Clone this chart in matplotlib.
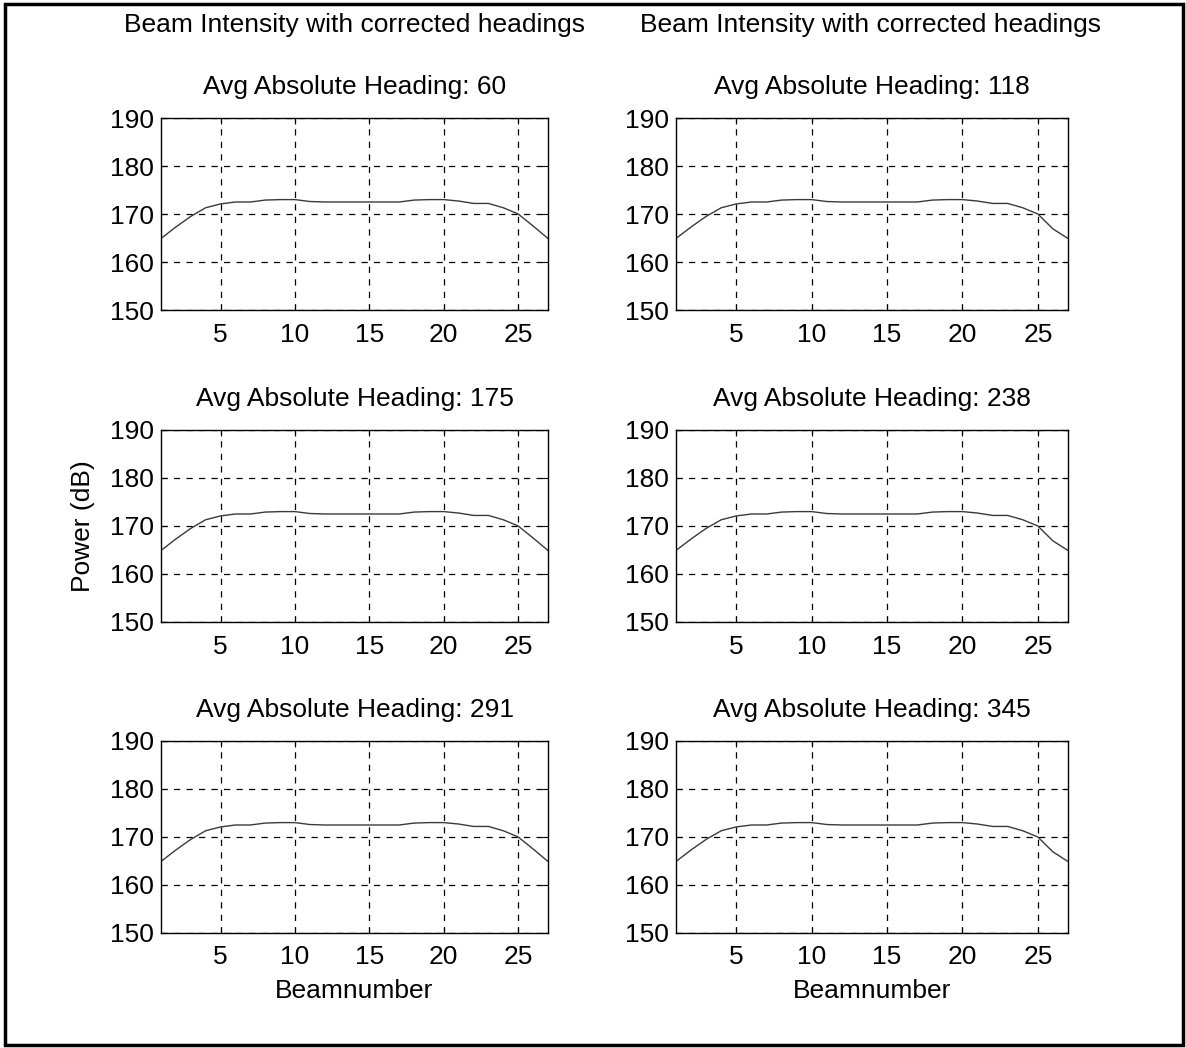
import matplotlib.pyplot as plt
import numpy as np

plt.rcParams['font.family'] = ['Liberation Sans', 'DejaVu Sans']

beams = list(range(1, 28))

# power per beam (dB)
left_power = [164.9, 167.3, 169.5, 171.3, 172.1, 172.5, 172.5, 172.9, 173.0, 173.0,
              172.6, 172.5, 172.5, 172.5, 172.5, 172.5, 172.5, 172.9, 173.0, 173.0,
              172.7, 172.2, 172.2, 171.3, 170.0, 167.5, 164.9]
right_power = [164.9, 167.3, 169.5, 171.3, 172.1, 172.5, 172.5, 172.9, 173.0, 173.0,
               172.6, 172.5, 172.5, 172.5, 172.5, 172.5, 172.5, 172.9, 173.0, 173.0,
               172.7, 172.2, 172.2, 171.3, 170.0, 166.9, 164.9]

headings = [60, 118, 175, 238, 291, 345]
panel_data = [left_power, right_power, left_power, right_power, left_power, right_power]

xticks = [5, 10, 15, 20, 25]
yticks = [150, 160, 170, 180, 190]

W, H = 1186, 1048
fs = 19
fig = plt.figure(figsize=(W / 100, H / 100), dpi=100)

# border of the scanned page
border = plt.Rectangle((5 / W, 3 / H), 1178 / W, 1041 / H, transform=fig.transFigure,
                       fill=False, edgecolor='black', linewidth=2.5)
fig.add_artist(border)

cols_px = [(161, 548), (676, 1068)]
rows_px = [(118, 310), (430, 622), (741, 933)]

for k, (heading, power) in enumerate(zip(headings, panel_data)):
    r, c = divmod(k, 2)
    x0, x1 = cols_px[c]
    y0, y1 = rows_px[r]
    ax = fig.add_axes([x0 / W, 1 - y1 / H, (x1 - x0) / W, (y1 - y0) / H])
    ax.plot(beams, power, color='#3a3a3a', linewidth=1.0)
    ax.set_xlim(1, 27)
    ax.set_ylim(150, 190)
    ax.set_xticks(xticks)
    ax.set_yticks(yticks)
    ax.grid(True, color='black', linestyle=(0, (5, 5)), linewidth=0.9)
    ax.tick_params(direction='in', length=4, labelsize=fs, top=True, right=True,
                   colors='black')
    ax.tick_params(axis='x', pad=9)
    ax.tick_params(axis='y', pad=5)
    for s in ax.spines.values():
        s.set_linewidth(1.0)
    ax.set_title('Avg Absolute Heading: %d' % heading, fontsize=fs, pad=17)
    if r == 2:
        ax.set_xlabel('Beamnumber', fontsize=fs, labelpad=7)
    if r == 1 and c == 0:
        ax.set_ylabel('Power (dB)', fontsize=fs, labelpad=11)

fig.text(355 / W, 1 - 25 / H, 'Beam Intensity with corrected headings',
         ha='center', va='center', fontsize=fs)
fig.text(870 / W, 1 - 25 / H, 'Beam Intensity with corrected headings',
         ha='center', va='center', fontsize=fs)

fig.savefig('out.png', dpi=100)
